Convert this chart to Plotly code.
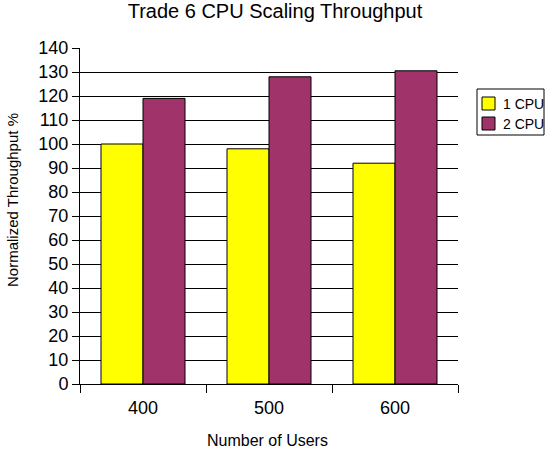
import plotly.graph_objects as go

categories = ["400", "500", "600"]
cpu1 = [100, 98, 92]
cpu2 = [119, 128, 130.5]
series_names = ["1 CPU", "2 CPU"]
series_colors = ["#FFFF00", "#A0336A"]
y_ticks = list(range(0, 141, 10))

FONT = "Liberation Sans, Arial, sans-serif"
W, H = 551, 459
ML, MR, MT, MB = 80, 93, 48, 75
PL, PR, PT, PB = ML, W - MR, MT, H - MB


def px2x(px):
    return (px - PL) / (PR - PL)


def px2y(py):
    return (PB - py) / (PB - PT)


fig = go.Figure()
for name, vals, col in zip(series_names, [cpu1, cpu2], series_colors):
    fig.add_trace(go.Bar(x=categories, y=vals, name=name, showlegend=False,
                         marker=dict(color=col, line=dict(color="black", width=1))))

shapes = [
    # legend frame
    dict(type="rect", xref="paper", yref="paper", x0=px2x(477), x1=px2x(544),
         y0=px2y(89), y1=px2y(135), line=dict(color="black", width=1), fillcolor="white",
         layer="above"),
]
annotations = [
    dict(text="Normalized Throughput %", textangle=-90, x=px2x(13), y=px2y(200),
         xref="paper", yref="paper", xanchor="center", yanchor="middle", showarrow=False,
         font=dict(size=15, family=FONT, color="black")),
    dict(text="Number of Users", x=px2x(267), y=px2y(440), xref="paper", yref="paper",
         xanchor="center", yanchor="middle", showarrow=False,
         font=dict(size=16, family=FONT, color="black")),
]
sym_y = [(97, 110), (117, 130)]
for (ya, yb), name, col in zip(sym_y, series_names, series_colors):
    shapes.append(dict(type="rect", xref="paper", yref="paper", x0=px2x(482), x1=px2x(495),
                       y0=px2y(yb), y1=px2y(ya), line=dict(color="black", width=1),
                       fillcolor=col, layer="above"))
    annotations.append(dict(text=name, x=px2x(501), y=px2y((ya + yb) / 2 + 0.5),
                            xref="paper", yref="paper", xanchor="left", yanchor="middle",
                            showarrow=False, font=dict(size=14, family=FONT, color="black")))

fig.update_layout(
    width=W, height=H,
    margin=dict(l=ML, r=MR, t=MT, b=MB),
    paper_bgcolor="white", plot_bgcolor="white",
    font=dict(family=FONT, color="black"),
    barmode="group", bargap=1/3, bargroupgap=0,
    title=dict(text="Trade 6 CPU Scaling Throughput", x=275 / W, xref="container", xanchor="center",
               y=1 - 11 / H, yref="container", yanchor="middle",
               font=dict(size=20, family=FONT, color="black")),
    showlegend=False,
    shapes=shapes,
    annotations=annotations,
)
fig.update_xaxes(
    type="category", tickson="boundaries", ticks="outside", ticklen=8, tickcolor="black",
    showline=True, linecolor="black", linewidth=1, showgrid=False, automargin=False,
    tickfont=dict(size=18, family=FONT), ticklabelstandoff=7,
)
fig.update_yaxes(
    range=[0, 140], tickvals=y_ticks, ticks="outside", ticklen=7, tickcolor="black",
    showline=True, linecolor="black", linewidth=1, automargin=False,
    showgrid=True, gridcolor="black", gridwidth=1, zeroline=False,
    tickfont=dict(size=18, family=FONT),
)

fig.write_html("out.html",
               config={"displayModeBar": False},
               post_script="document.body.style.margin='0';document.body.style.overflow='hidden';")
